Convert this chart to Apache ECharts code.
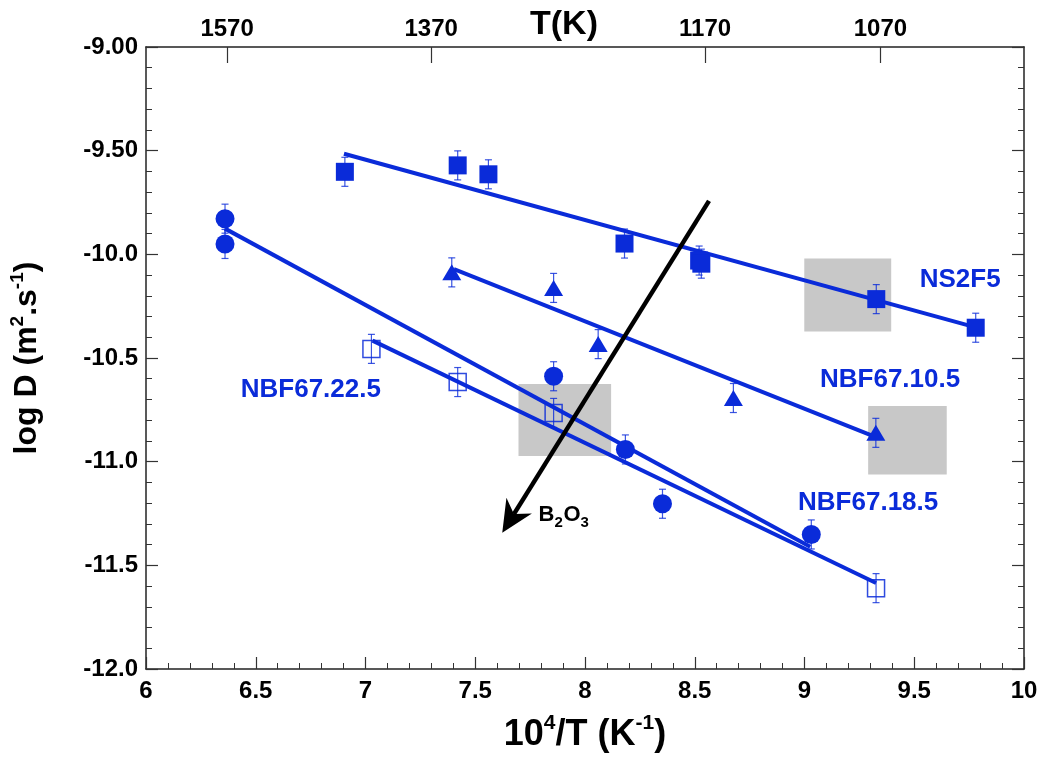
<!DOCTYPE html>
<html><head><meta charset="utf-8">
<script src="https://cdn.jsdelivr.net/npm/echarts@6/dist/echarts.min.js"></script>
<style>html,body{margin:0;padding:0;background:#fff}#c{width:1043px;height:758px}</style>
</head><body><div id="c"></div>
<script>
// ---------- data ----------
const yTickValues = [-12, -11.5, -11, -10.5, -10, -9.5, -9];
const yTickLabels = ['-12.0', '-11.5', '-11.0', '-10.5', '-10.0', '-9.50', '-9.00'];
const topTemps = [1570, 1370, 1170, 1070];

const ns2f5X = [6.906, 7.42, 7.56, 8.18, 8.52, 8.53, 9.327, 9.78];
const ns2f5Y = [-9.602, -9.571, -9.614, -9.948, -10.03, -10.045, -10.216, -10.354];
const nbf185X = [6.36, 6.36, 7.857, 8.184, 8.353, 9.031];
const nbf185Y = [-9.828, -9.950, -10.588, -10.941, -11.203, -11.351];
const nbf225X = [7.027, 7.42, 7.857, 9.326];
const nbf225Y = [-10.456, -10.616, -10.765, -11.61];
const nbf105X = [7.393, 7.857, 8.06, 8.676, 9.325];
const nbf105Y = [-10.087, -10.162, -10.433, -10.693, -10.861];
const errBar = 0.07;

const ns2f5Fit = [[6.902, -9.515], [9.78, -10.352]];
const nbf185Fit = [[6.36, -9.876], [9.026, -11.41]];
const nbf225Fit = [[7.032, -10.416], [9.326, -11.585]];
const nbf105Fit = [[7.403, -10.071], [9.325, -10.882]];

const greyBoxes = [[8.999, -10.020, 9.395, -10.372], [9.29, -10.731, 9.648, -11.062], [7.697, -10.626, 8.119, -10.973]];
const arrowData = [[8.565, -9.742, 7.623, -11.343]];

const seriesLabels = ['NS2F5', 'NBF67.10.5', 'NBF67.22.5', 'NBF67.18.5'];
const seriesLabelPos = [[9.709, -10.125], [9.39, -10.607], [6.751, -10.655], [9.29, -11.198]];
const arrowLabelPos = [7.788, -11.256];

// ---------- style ----------
const BLUE = '#0a2bd9';
const SANS = "'Liberation Sans',Arial,sans-serif";

const pairs = (xs, ys) => xs.map((x, i) => [x, ys[i], errBar]);

const chart = echarts.init(document.getElementById('c'), null, {renderer: 'canvas'});

function errRender(params, api) {
  const x = api.value(0), y = api.value(1), e = api.value(2);
  const t = api.coord([x, y + e]), b = api.coord([x, y - e]);
  const w = 3.5;
  const st = {stroke: BLUE, lineWidth: 1.2, opacity: 0.8};
  return {type: 'group', children: [
    {type: 'line', shape: {x1: t[0], y1: t[1], x2: b[0], y2: b[1]}, style: st},
    {type: 'line', shape: {x1: t[0] - w, y1: t[1], x2: t[0] + w, y2: t[1]}, style: st},
    {type: 'line', shape: {x1: b[0] - w, y1: b[1], x2: b[0] + w, y2: b[1]}, style: st}
  ]};
}
function errSeries(xs, ys) {
  return {type: 'custom', renderItem: errRender, data: pairs(xs, ys), z: 3, silent: true};
}
function fitSeries(d) {
  return {type: 'line', data: d, showSymbol: false, symbol: 'none', lineStyle: {color: BLUE, width: 4}, z: 2, silent: true};
}

const yAxisCommon = {
  type: 'value', min: -12, max: -9, interval: 0.5,
  axisLine: {show: true, lineStyle: {color: '#222', width: 1.5}},
  axisTick: {show: true, inside: true, length: 12, lineStyle: {color: '#333', width: 1.2}},
  minorTick: {show: true, splitNumber: 5, length: 6, lineStyle: {color: '#333', width: 1}},
  splitLine: {show: false}
};

const option = {
  animation: false,
  backgroundColor: '#fff',
  grid: {left: 145, right: 19, top: 47, bottom: 82},
  xAxis: [
    {
      type: 'value', min: 6, max: 10, interval: 0.5, position: 'bottom',
      name: '{b|10}{sup|4}{b|/T (K}{sup|-1}{b|)}', nameLocation: 'middle', nameGap: 44,
      nameTextStyle: {rich: {
        b: {fontFamily: SANS, fontWeight: 'bold', fontSize: 36, color: '#000', lineHeight: 44},
        sup: {fontFamily: SANS, fontWeight: 'bold', fontSize: 21, color: '#000', lineHeight: 26, verticalAlign: 'top'}
      }},
      axisLine: {show: true, lineStyle: {color: '#222', width: 1.5}},
      axisTick: {show: true, inside: true, length: 12, lineStyle: {color: '#333', width: 1.2}},
      minorTick: {show: true, splitNumber: 5, length: 6, lineStyle: {color: '#333', width: 1}},
      axisLabel: {fontFamily: SANS, fontWeight: 'bold', fontSize: 24, color: '#000', margin: 10, formatter: v => String(v)},
      splitLine: {show: false}
    },
    {
      type: 'value', min: 6, max: 10, position: 'top',
      axisLine: {show: true, lineStyle: {color: '#222', width: 1.5}},
      axisTick: {show: true, inside: true, length: 16, customValues: topTemps.map(t => 1e4 / t), lineStyle: {color: '#333', width: 1.2}},
      axisLabel: {show: true, customValues: topTemps.map(t => 1e4 / t), fontFamily: SANS, fontWeight: 'bold', fontSize: 24, color: '#000', margin: 6,
        formatter: v => String(Math.round(1e4 / v))},
      splitLine: {show: false}
    }
  ],
  yAxis: [
    Object.assign({}, yAxisCommon, {
      position: 'left',
      name: '{b|log D (m}{sup|2}{b|.s}{sup|-1}{b|)}', nameLocation: 'middle', nameGap: 100,
      nameTextStyle: {rich: {
        b: {fontFamily: SANS, fontWeight: 'bold', fontSize: 32, color: '#000', lineHeight: 38},
        sup: {fontFamily: SANS, fontWeight: 'bold', fontSize: 19, color: '#000', lineHeight: 22, verticalAlign: 'top'}
      }},
      axisLabel: {fontFamily: SANS, fontWeight: 'bold', fontSize: 24, color: '#000', margin: 8,
        formatter: v => { const i = yTickValues.findIndex(t => Math.abs(t - v) < 1e-6); return i >= 0 ? yTickLabels[i] : ''; }}
    }),
    Object.assign({}, yAxisCommon, {position: 'right', axisLabel: {show: false}})
  ],
  graphic: [
    {type: 'text', left: 530, top: 8, style: {text: 'T(K)', font: "bold 34px " + SANS, fill: '#000'}}
  ],
  series: [
    {type: 'custom', z: 1, silent: true, data: greyBoxes,
      renderItem: (params, api) => {
        const p0 = api.coord([api.value(0), api.value(1)]), p1 = api.coord([api.value(2), api.value(3)]);
        return {type: 'rect', shape: {x: Math.min(p0[0], p1[0]), y: Math.min(p0[1], p1[1]), width: Math.abs(p1[0] - p0[0]), height: Math.abs(p1[1] - p0[1])}, style: {fill: '#c8c8c8'}};
      }},
    fitSeries(ns2f5Fit), fitSeries(nbf185Fit), fitSeries(nbf225Fit), fitSeries(nbf105Fit),
    errSeries(ns2f5X, ns2f5Y), errSeries(nbf185X, nbf185Y), errSeries(nbf225X, nbf225Y), errSeries(nbf105X, nbf105Y),
    {type: 'scatter', name: 'NS2F5', z: 4, symbol: 'rect', symbolSize: 18, itemStyle: {color: BLUE, opacity: 1}, data: pairs(ns2f5X, ns2f5Y)},
    {type: 'scatter', name: 'NBF67.18.5', z: 4, symbol: 'circle', symbolSize: 19, itemStyle: {color: BLUE, opacity: 1}, data: pairs(nbf185X, nbf185Y)},
    {type: 'scatter', name: 'NBF67.22.5', z: 4, symbol: 'rect', symbolSize: 17, itemStyle: {color: 'rgba(0,0,0,0)', borderColor: BLUE, borderWidth: 1.5, opacity: 0.85}, data: pairs(nbf225X, nbf225Y)},
    {type: 'scatter', name: 'NBF67.10.5', z: 4, symbol: 'triangle', symbolSize: [19, 16], itemStyle: {color: BLUE, opacity: 1}, data: pairs(nbf105X, nbf105Y)},
    {type: 'custom', z: 5, silent: true, data: arrowData,
      renderItem: (params, api) => {
        const p0 = api.coord([api.value(0), api.value(1)]), p1 = api.coord([api.value(2), api.value(3)]);
        const dx = p1[0] - p0[0], dy = p1[1] - p0[1], L = Math.hypot(dx, dy);
        const ux = dx / L, uy = dy / L, px = -uy, py = ux;
        const hl = 32, hw = 15, notch = 22;
        const bx = p1[0] - ux * hl, by = p1[1] - uy * hl;
        const nx = p1[0] - ux * notch, ny = p1[1] - uy * notch;
        return {type: 'group', children: [
          {type: 'line', shape: {x1: p0[0], y1: p0[1], x2: nx, y2: ny}, style: {stroke: '#000', lineWidth: 4.5}},
          {type: 'polygon', shape: {points: [[p1[0], p1[1]], [bx + px * hw, by + py * hw], [nx, ny], [bx - px * hw, by - py * hw]]}, style: {fill: '#000'}}
        ]};
      }},
    {type: 'custom', z: 6, silent: true, data: seriesLabelPos.map((p, i) => [p[0], p[1], i]),
      renderItem: (params, api) => {
        const p = api.coord([api.value(0), api.value(1)]);
        return {type: 'text', x: p[0], y: p[1], style: {text: seriesLabels[api.value(2)], font: "bold 26px " + SANS, fill: BLUE, align: 'center', verticalAlign: 'middle'}};
      }},
    {type: 'custom', z: 6, silent: true, data: [arrowLabelPos],
      renderItem: (params, api) => {
        const p = api.coord([api.value(0), api.value(1)]);
        const big = "bold 22px " + SANS, small = "bold 15px " + SANS;
        const parts = [['B', big, 0], ['2', small, 8], ['O', big, 0], ['3', small, 8]];
        const kids = [];
        let x = p[0];
        const widths = {'B': 16, 'O': 17, '2': 9, '3': 9};
        parts.forEach(pt => {
          kids.push({type: 'text', x: x, y: p[1] + pt[2], style: {text: pt[0], font: pt[1], fill: '#000', align: 'left', verticalAlign: 'middle'}});
          x += widths[pt[0]];
        });
        return {type: 'group', children: kids};
      }}
  ]
};
chart.setOption(option);
</script>
</body></html>
